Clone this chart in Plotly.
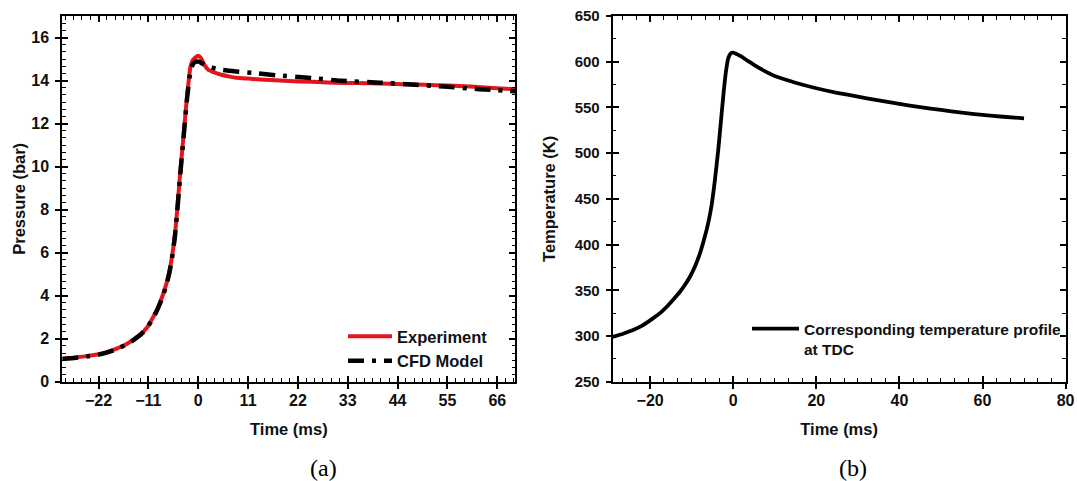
import plotly.graph_objects as go

# ---- Pressure (panel a) ----
time_exp = [-30, -27, -24.3, -21.5, -19.2, -17.3, -15.5, -14, -12.5, -11.3, -10.3, -9.4,
            -8.5, -7.7, -7.0, -6.4, -5.9, -5.2, -4.7, -4.0, -3.2, -2.4, -1.7, -1.2, -0.6,
            0, 0.6, 1.3, 2.2, 3.5, 5.1, 7, 8.4, 11, 12.9, 16, 20, 25, 30, 35, 40, 45,
            50, 55, 60, 65, 70]
pressure_exp = [1.07, 1.13, 1.20, 1.30, 1.44, 1.60, 1.79, 2.0, 2.25, 2.52, 2.87, 3.22,
                3.65, 4.1, 4.58, 5.1, 5.66, 6.74, 7.83, 9.65, 11.55, 13.41, 14.65, 14.95,
                15.08, 15.15, 15.05, 14.75, 14.5, 14.38, 14.27, 14.18, 14.13, 14.09, 14.06,
                14.02, 13.98, 13.94, 13.9, 13.88, 13.86, 13.83, 13.8, 13.77, 13.72, 13.65,
                13.6]

time_cfd = [-30, -27, -24.3, -21.5, -19.2, -17.3, -15.5, -14, -12.5, -11.3, -10.3, -9.4,
            -8.5, -7.7, -7.0, -6.4, -5.9, -5.2, -4.7, -4.0, -3.2, -2.4, -1.7, -1.1, -0.5,
            0.1, 1, 2.2, 5.1, 8.4, 12.9, 17, 25, 31.4, 40, 47, 54.3, 62, 70]
pressure_cfd = [1.05, 1.11, 1.18, 1.28, 1.42, 1.58, 1.77, 1.98, 2.23, 2.5, 2.84, 3.18,
                3.6, 4.05, 4.52, 5.03, 5.6, 6.65, 7.75, 9.55, 11.45, 13.3, 14.45, 14.78,
                14.88, 14.88, 14.78, 14.65, 14.5, 14.42, 14.34, 14.25, 14.12, 13.99, 13.9,
                13.82, 13.72, 13.6, 13.5]

# ---- Temperature (panel b) ----
time_temp = [-29, -26.5, -24.1, -21.7, -19.3, -17.6, -16.0, -14.4, -12.8, -11.6, -10.4,
             -9.2, -8.0, -7.2, -6.4, -5.8, -5.2, -4.4, -3.6, -3.0, -2.4, -1.8, -1.2, -0.5,
             0, 1, 2, 3.5, 5, 7.5, 10, 12.5, 15, 20, 25, 30, 35, 40, 45, 50, 55, 60, 65, 70]
temperature = [299, 302.5, 306.5, 312, 319.3, 325, 332, 340, 348.4, 356, 364.8,
               376, 390.4, 402.5, 416, 428, 443, 470.6, 503.4, 532.6, 561.7, 587.3, 603.7,
               609.5, 610, 608, 605.6, 601, 596.5, 590, 584.4, 580.5, 577, 571, 566, 561.8,
               557.6, 553.8, 550.3, 547.2, 544.3, 541.8, 539.8, 538.1]

# ---- Axis ticks ----
x_a_range, x_a_step, x_a_minor = [-30, 70], 11, 11 / 6
y_a_range, y_a_step, y_a_minor = [0, 17], 2, 1 / 3
x_b_range, x_b_step, x_b_minor = [-29, 80], 20, 20 / 6
y_b_range, y_b_step, y_b_minor = [250, 650], 50, 25

W, H = 1077, 481
FONT = "Liberation Sans, Arial, sans-serif"
SERIF = "Liberation Serif, Times New Roman, serif"


def tfont(size):
    return dict(family=FONT, size=size, color="#111", weight=700)


dom_a = [62.3 / W, 515.4 / W]
dom_b = [612.7 / W, 1065.6 / W]
dom_y = [(H - 381.7) / H, (H - 16) / H]

fig = go.Figure()

fig.add_trace(go.Scatter(
    x=time_exp, y=pressure_exp, mode="lines", name="Experiment",
    line=dict(color="#e3151d", width=4, shape="spline", smoothing=0.5),
    xaxis="x", yaxis="y", legend="legend"))
fig.add_trace(go.Scatter(
    x=time_cfd, y=pressure_cfd, mode="lines", name="CFD Model",
    line=dict(color="black", width=4.5, dash="16px,8px,4px,8px",
              shape="spline", smoothing=0.5),
    xaxis="x", yaxis="y", legend="legend"))
fig.add_trace(go.Scatter(
    x=time_temp, y=temperature, mode="lines",
    name="Corresponding temperature profile<br>at TDC",
    line=dict(color="black", width=3.8, shape="spline", smoothing=0.5),
    xaxis="x2", yaxis="y2", legend="legend2"))

# empty traces carrying the outer-tick overlay axes
fig.add_trace(go.Scatter(x=[None], y=[None], xaxis="x3", yaxis="y3",
                         showlegend=False, hoverinfo="skip"))
fig.add_trace(go.Scatter(x=[None], y=[None], xaxis="x4", yaxis="y4",
                         showlegend=False, hoverinfo="skip"))


def main_axis(domain, rng, step, minor_step, minor0, title, anchor, standoff, size,
              label_gap):
    # frame line, inward major + minor ticks mirrored on the opposite side
    return dict(domain=domain, range=rng, tickmode="linear", tick0=0, dtick=step,
                ticks="inside", ticklen=6, tickwidth=1.6, tickcolor="black",
                minor=dict(tickmode="linear", tick0=minor0, dtick=minor_step,
                           ticks="inside", ticklen=3.5, tickwidth=1.4,
                           tickcolor="black", showgrid=False),
                showline=True, linewidth=2, linecolor="black", mirror="ticks",
                showgrid=False, zeroline=False, tickfont=tfont(size),
                ticklabelstandoff=label_gap, automargin=False,
                title=dict(text=title, font=tfont(16.5), standoff=standoff),
                anchor=anchor)


def outer_axis(over, rng, step, anchor):
    # outward half of the major ticks, so they cross the frame
    return dict(overlaying=over, range=rng, tickmode="linear", tick0=0, dtick=step,
                ticks="outside", ticklen=6, tickwidth=1.6, tickcolor="black",
                showline=False, showgrid=False, zeroline=False, automargin=False,
                showticklabels=False, anchor=anchor)


fig.update_layout(
    width=W, height=H,
    margin=dict(l=0, r=0, t=0, b=0, pad=0, autoexpand=False),
    paper_bgcolor="white", plot_bgcolor="white",
    showlegend=True,
    xaxis=main_axis(dom_a, x_a_range, x_a_step, x_a_minor, 0, "Time (ms)", "y", 16, 16, 3),
    yaxis=main_axis(dom_y, y_a_range, y_a_step, y_a_minor, 0, "Pressure (bar)", "x", 2, 16, 8),
    xaxis2=main_axis(dom_b, x_b_range, x_b_step, x_b_minor, 0, "Time (ms)", "y2", 16, 16, 3),
    yaxis2=main_axis(dom_y, y_b_range, y_b_step, y_b_minor, 250, "Temperature (K)", "x2", 15,
                     15, 8),
    xaxis3=outer_axis("x", x_a_range, x_a_step, "y3"),
    yaxis3=outer_axis("y", y_a_range, y_a_step, "x3"),
    xaxis4=outer_axis("x2", x_b_range, x_b_step, "y4"),
    yaxis4=outer_axis("y2", y_b_range, y_b_step, "x4"),
    legend=dict(x=343 / W, y=(H - 319) / H, xanchor="left", yanchor="top",
                itemwidth=44,
                bgcolor="rgba(0,0,0,0)", borderwidth=0, tracegroupgap=0,
                font=tfont(16.5)),
    legend2=dict(x=747 / W, y=(H - 312) / H, xanchor="left", yanchor="top",
                 itemwidth=47,
                 valign="top", bgcolor="rgba(0,0,0,0)", borderwidth=0,
                 font=tfont(15.5)),
    annotations=[
        dict(text="(a)", x=323 / W, y=(H - 468) / H, xref="paper", yref="paper",
             xanchor="center", yanchor="middle", showarrow=False,
             font=dict(family=SERIF, size=24, color="black")),
        dict(text="(b)", x=853 / W, y=(H - 468) / H, xref="paper", yref="paper",
             xanchor="center", yanchor="middle", showarrow=False,
             font=dict(family=SERIF, size=24, color="black")),
    ],
)

fig.write_html("out.html")
